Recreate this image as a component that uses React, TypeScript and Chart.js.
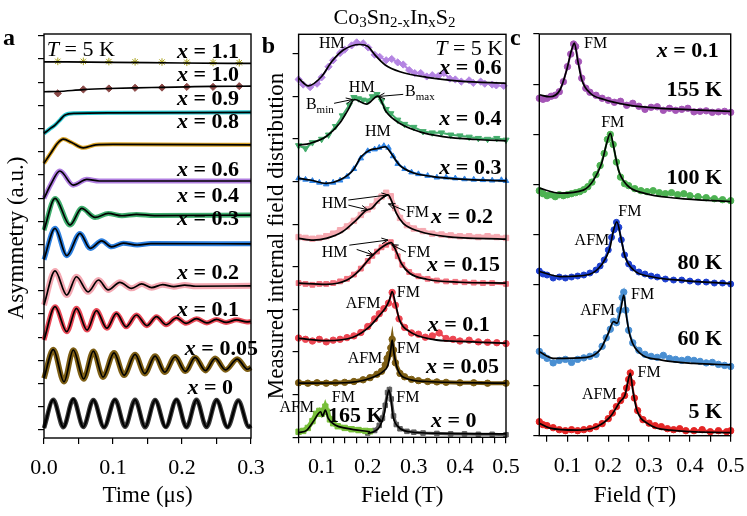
import React, { useEffect, useRef } from 'react';
import { Chart, registerables } from 'chart.js';
Chart.register(...registerables);

const SERIF = '"Liberation Serif", "Times New Roman", Times, serif';
const fnt = (size: number, style = '') => `${style} ${size}px ${SERIF}`.trim();

// ---------------- Panel a : asymmetry vs time (µs), T = 5 K ----------------
const aX11Fit = [[0, 15.88], [0.1, 15.86], [0.2, 15.83], [0.3, 15.81]];
const aX11Pts = [[0.02, 15.9], [0.057, 15.9], [0.094, 15.89], [0.132, 15.88], [0.171, 15.87], [0.207, 15.86], [0.245, 15.85], [0.283, 15.84]];
const aX10Fit = [[0, 14.59], [0.02, 14.6], [0.057, 14.68], [0.094, 14.73], [0.132, 14.76], [0.171, 14.78], [0.207, 14.8], [0.245, 14.82], [0.3, 14.83]];
const aX10Pts = [[0.02, 14.52], [0.057, 14.69], [0.094, 14.73], [0.132, 14.76], [0.171, 14.77], [0.207, 14.8], [0.245, 14.8], [0.283, 14.83]];
const aX09 = [[0, 12.79], [0.008, 12.98], [0.016, 13.15], [0.024, 13.4], [0.03, 13.58], [0.045, 13.66], [0.1, 13.68], [0.3, 13.7]];
const aX08 = [[0, 11.5], [0.01, 11.95], [0.02, 12.38], [0.028, 12.55], [0.04, 12.4], [0.057, 12.17], [0.075, 12.3], [0.1, 12.32], [0.3, 12.3]];
const aX06 = [[0, 9.99], [0.01, 10.6], [0.023, 11.17], [0.0425, 10.56], [0.062, 10.81], [0.08, 10.74], [0.3, 10.74]];
const aX04 = [[0, 8.62], [0.016, 9.99], [0.0377, 8.84], [0.0546, 9.56], [0.074, 9.17], [0.093, 9.34], [0.113, 9.24], [0.134, 9.3], [0.16, 9.25], [0.3, 9.27]];
const aX03 = [[0, 7.35], [0.016, 8.7], [0.033, 7.52], [0.052, 8.48], [0.067, 7.83], [0.0836, 8.16], [0.098, 7.9], [0.115, 8.06], [0.135, 7.98], [0.155, 8.04], [0.3, 8.03]];
const aX02 = [[0, 5.39], [0.016, 6.86], [0.033, 5.82], [0.047, 6.61], [0.064, 5.96], [0.079, 6.47], [0.093, 6.04], [0.11, 6.37], [0.127, 6.11], [0.1416, 6.3], [0.156, 6.14], [0.172, 6.27], [0.188, 6.18], [0.204, 6.25], [0.22, 6.2], [0.3, 6.22]];
const aX01 = [[0, 3.88], [0.016, 5.32], [0.033, 4.24], [0.047, 5.25], [0.0625, 4.31], [0.076, 5.15], [0.091, 4.39], [0.105, 5.03], [0.119, 4.45], [0.134, 4.96], [0.149, 4.5], [0.163, 4.89], [0.177, 4.54], [0.192, 4.84], [0.206, 4.6], [0.221, 4.8], [0.236, 4.62], [0.25, 4.77], [0.264, 4.64], [0.279, 4.75], [0.294, 4.66], [0.3, 4.68]];
const aX005 = [[0, 2.23], [0.0135, 3.47], [0.029, 2.08], [0.0425, 3.45], [0.0575, 2.2], [0.0715, 3.4], [0.0855, 2.28], [0.1015, 3.33], [0.116, 2.36], [0.132, 3.26], [0.146, 2.43], [0.161, 3.19], [0.175, 2.49], [0.19, 3.16], [0.205, 2.53], [0.219, 3.13], [0.234, 2.56], [0.248, 3.09], [0.263, 2.59], [0.28, 3.06], [0.295, 2.62], [0.3, 2.7]];
const aX0 = [[0, 0.08], [0.0135, 1.3], [0.028, 0.12], [0.0425, 1.33], [0.057, 0.13], [0.0715, 1.29], [0.087, 0.12], [0.103, 1.31], [0.1175, 0.14], [0.132, 1.3], [0.1465, 0.12], [0.161, 1.29], [0.1765, 0.13], [0.192, 1.31], [0.2065, 0.12], [0.221, 1.3], [0.2355, 0.13], [0.25, 1.29], [0.266, 0.12], [0.2816, 1.27], [0.297, 0.13], [0.3, 0.2]];

// ---------------- Panel b : field distributions, T = 5 K ----------------
const b06Fit = [[0.05, 8.43], [0.071, 8.25], [0.1, 8.47], [0.122, 8.82], [0.147, 9.09], [0.183, 9.22], [0.201, 9.17], [0.216, 8.97], [0.238, 8.74], [0.27, 8.58], [0.328, 8.45], [0.4, 8.36], [0.5, 8.31]];
const b06Dat = [[0.05, 8.4], [0.06, 8.28], [0.075, 8.22], [0.09, 8.3], [0.1, 8.45], [0.115, 8.7], [0.125, 8.85], [0.14, 9.02], [0.15, 9.1], [0.165, 9.2], [0.176, 9.27], [0.19, 9.25], [0.201, 9.15], [0.215, 8.98], [0.226, 8.93], [0.24, 8.85], [0.252, 8.88], [0.265, 8.8], [0.277, 8.75], [0.29, 8.62], [0.302, 8.55], [0.315, 8.55], [0.328, 8.47], [0.34, 8.5], [0.353, 8.48], [0.365, 8.55], [0.378, 8.42], [0.39, 8.4], [0.403, 8.35], [0.42, 8.38], [0.429, 8.32], [0.445, 8.35], [0.454, 8.3], [0.47, 8.28], [0.479, 8.26], [0.495, 8.25]];
const b04Fit = [[0.05, 6.86], [0.075, 6.9], [0.11, 7.06], [0.139, 7.37], [0.157, 7.68], [0.171, 7.93], [0.197, 7.82], [0.222, 8.01], [0.24, 7.64], [0.269, 7.37], [0.313, 7.17], [0.363, 7.06], [0.435, 6.99], [0.5, 6.96]];
const b04Dat = [[0.05, 6.85], [0.065, 6.78], [0.08, 6.92], [0.1, 7.0], [0.115, 7.1], [0.13, 7.3], [0.145, 7.55], [0.16, 7.8], [0.17, 7.98], [0.18, 7.95], [0.19, 7.92], [0.2, 7.9], [0.21, 8.0], [0.22, 8.05], [0.23, 7.9], [0.24, 7.7], [0.25, 7.6], [0.265, 7.45], [0.28, 7.35], [0.3, 7.28], [0.32, 7.18], [0.34, 7.15], [0.36, 7.15], [0.38, 7.1], [0.4, 7.08], [0.42, 7.05], [0.44, 7.02], [0.46, 7.0], [0.48, 7.02], [0.5, 6.98]];
const b03Fit = [[0.05, 6.08], [0.075, 6.04], [0.11, 5.96], [0.139, 6.04], [0.168, 6.27], [0.186, 6.59], [0.204, 6.74], [0.222, 6.78], [0.238, 6.82], [0.251, 6.66], [0.269, 6.39], [0.298, 6.21], [0.341, 6.12], [0.399, 6.06], [0.5, 6.02]];
const b03Dat = [[0.05, 6.08], [0.065, 6.05], [0.08, 6.02], [0.095, 5.98], [0.11, 5.94], [0.125, 5.98], [0.14, 6.03], [0.155, 6.12], [0.17, 6.3], [0.185, 6.55], [0.2, 6.72], [0.215, 6.76], [0.225, 6.8], [0.235, 6.84], [0.245, 6.8], [0.255, 6.6], [0.265, 6.42], [0.28, 6.3], [0.295, 6.22], [0.31, 6.18], [0.33, 6.14], [0.35, 6.1], [0.37, 6.1], [0.39, 6.08], [0.41, 6.06], [0.43, 6.05], [0.45, 6.04], [0.47, 6.03], [0.49, 6.04], [0.5, 6.02]];
const b02Fit = [[0.05, 4.67], [0.082, 4.63], [0.11, 4.67], [0.146, 4.83], [0.175, 5.1], [0.197, 5.33], [0.208, 5.37], [0.222, 5.53], [0.244, 5.69], [0.251, 5.57], [0.262, 5.26], [0.277, 5.02], [0.313, 4.83], [0.371, 4.71], [0.5, 4.65]];
const b02Dat = [[0.05, 4.7], [0.065, 4.68], [0.08, 4.66], [0.095, 4.68], [0.11, 4.72], [0.125, 4.78], [0.14, 4.86], [0.155, 4.95], [0.17, 5.08], [0.185, 5.22], [0.2, 5.35], [0.21, 5.42], [0.22, 5.55], [0.23, 5.65], [0.24, 5.74], [0.25, 5.66], [0.26, 5.38], [0.27, 5.15], [0.285, 4.98], [0.3, 4.9], [0.32, 4.84], [0.34, 4.78], [0.36, 4.76], [0.38, 4.74], [0.4, 4.72], [0.42, 4.72], [0.44, 4.7], [0.46, 4.72], [0.48, 4.7], [0.5, 4.68]];
const b015Fit = [[0.05, 3.62], [0.11, 3.59], [0.155, 3.69], [0.183, 3.93], [0.204, 4.2], [0.219, 4.36], [0.233, 4.48], [0.251, 4.57], [0.262, 4.36], [0.273, 4.08], [0.291, 3.85], [0.328, 3.71], [0.399, 3.64], [0.5, 3.62]];
const b015Dat = [[0.05, 3.62], [0.065, 3.6], [0.08, 3.58], [0.095, 3.6], [0.11, 3.6], [0.125, 3.62], [0.14, 3.66], [0.155, 3.72], [0.17, 3.82], [0.185, 3.96], [0.2, 4.14], [0.21, 4.26], [0.22, 4.36], [0.23, 4.46], [0.24, 4.52], [0.25, 4.58], [0.258, 4.45], [0.265, 4.25], [0.275, 4.05], [0.29, 3.88], [0.31, 3.78], [0.33, 3.72], [0.35, 3.68], [0.37, 3.66], [0.39, 3.65], [0.41, 3.64], [0.43, 3.63], [0.45, 3.62], [0.47, 3.62], [0.5, 3.6]];
const b01Fit = [[0.05, 2.32], [0.11, 2.27], [0.168, 2.35], [0.204, 2.6], [0.226, 2.87], [0.238, 3.03], [0.247, 3.22], [0.253, 3.42], [0.26, 3.15], [0.269, 2.75], [0.291, 2.48], [0.341, 2.3], [0.399, 2.25], [0.5, 2.21]];
const b01Dat = [[0.05, 2.33], [0.065, 2.3], [0.08, 2.26], [0.095, 2.3], [0.11, 2.24], [0.125, 2.28], [0.14, 2.3], [0.155, 2.34], [0.17, 2.38], [0.185, 2.46], [0.2, 2.6], [0.215, 2.78], [0.225, 2.9], [0.235, 3.02], [0.245, 3.15], [0.253, 3.4], [0.26, 3.1], [0.268, 2.78], [0.28, 2.58], [0.295, 2.45], [0.31, 2.42], [0.325, 2.35], [0.34, 2.38], [0.355, 2.45], [0.37, 2.32], [0.385, 2.3], [0.4, 2.26], [0.42, 2.28], [0.44, 2.24], [0.46, 2.23], [0.48, 2.22], [0.5, 2.2]];
const b005Fit = [[0.05, 1.27], [0.15, 1.28], [0.204, 1.38], [0.233, 1.54], [0.244, 1.7], [0.25, 2.05], [0.253, 2.28], [0.257, 1.97], [0.264, 1.62], [0.284, 1.38], [0.328, 1.31], [0.5, 1.27]];
const b005Dat = [[0.05, 1.28], [0.07, 1.27], [0.09, 1.28], [0.11, 1.27], [0.13, 1.28], [0.15, 1.29], [0.17, 1.31], [0.19, 1.35], [0.205, 1.4], [0.22, 1.48], [0.23, 1.55], [0.238, 1.7], [0.242, 1.85], [0.247, 1.95], [0.25, 2.1], [0.253, 2.3], [0.256, 2.05], [0.26, 1.75], [0.27, 1.5], [0.28, 1.42], [0.295, 1.36], [0.31, 1.33], [0.33, 1.31], [0.35, 1.3], [0.37, 1.29], [0.4, 1.28], [0.43, 1.28], [0.46, 1.27], [0.5, 1.27]];
const b0Fit = [[0.2, 0.09], [0.215, 0.14], [0.226, 0.25], [0.236, 0.56], [0.242, 0.95], [0.246, 1.11], [0.25, 0.92], [0.255, 0.49], [0.266, 0.25], [0.291, 0.13], [0.363, 0.09], [0.5, 0.08]];
const b0Dat = [[0.2, 0.1], [0.215, 0.16], [0.225, 0.28], [0.232, 0.45], [0.238, 0.75], [0.243, 1.05], [0.247, 1.12], [0.251, 0.9], [0.256, 0.5], [0.262, 0.3], [0.27, 0.2], [0.285, 0.14], [0.3, 0.12], [0.32, 0.1], [0.35, 0.09], [0.38, 0.08], [0.41, 0.08], [0.44, 0.07], [0.47, 0.07], [0.5, 0.06]];
const b165Fit = [[0.05, 0.11], [0.068, 0.17], [0.082, 0.37], [0.093, 0.56], [0.098, 0.6], [0.102, 0.49], [0.108, 0.64], [0.114, 0.45], [0.129, 0.29], [0.155, 0.21], [0.205, 0.13]];
const b165Dat = [[0.05, 0.13], [0.06, 0.15], [0.07, 0.22], [0.08, 0.38], [0.088, 0.55], [0.095, 0.62], [0.1, 0.55], [0.105, 0.62], [0.108, 0.72], [0.112, 0.6], [0.118, 0.42], [0.125, 0.33], [0.135, 0.26], [0.15, 0.22], [0.165, 0.19], [0.18, 0.17], [0.195, 0.15], [0.205, 0.14]];

// ---------------- Panel c : x = 0.1 at several temperatures ----------------
const c155Fit = [[0.031, 6.79], [0.057, 6.75], [0.082, 6.89], [0.098, 7.28], [0.11, 7.68], [0.117, 7.82], [0.125, 7.48], [0.135, 7.09], [0.156, 6.82], [0.188, 6.7], [0.246, 6.59], [0.328, 6.52], [0.409, 6.49], [0.5, 6.46]];
const c155Dat = [[0.031, 6.72], [0.04, 6.7], [0.05, 6.72], [0.06, 6.76], [0.07, 6.78], [0.08, 6.85], [0.09, 7.05], [0.1, 7.35], [0.108, 7.6], [0.115, 7.8], [0.12, 7.75], [0.127, 7.45], [0.135, 7.12], [0.145, 6.92], [0.155, 6.84], [0.17, 6.78], [0.185, 6.72], [0.2, 6.68], [0.215, 6.64], [0.23, 6.66], [0.245, 6.58], [0.26, 6.62], [0.275, 6.56], [0.29, 6.5], [0.305, 6.54], [0.32, 6.55], [0.335, 6.48], [0.35, 6.52], [0.365, 6.48], [0.38, 6.5], [0.395, 6.52], [0.41, 6.45], [0.425, 6.46], [0.44, 6.47], [0.455, 6.44], [0.47, 6.45], [0.485, 6.46], [0.5, 6.44]];
const c100Fit = [[0.031, 4.93], [0.082, 4.83], [0.139, 4.89], [0.164, 5.09], [0.184, 5.43], [0.196, 5.82], [0.205, 6.02], [0.213, 5.76], [0.225, 5.29], [0.246, 4.99], [0.287, 4.83], [0.368, 4.73], [0.5, 4.66]];
const c100Dat = [[0.031, 4.88], [0.04, 4.82], [0.05, 4.78], [0.06, 4.8], [0.07, 4.76], [0.08, 4.8], [0.09, 4.78], [0.1, 4.8], [0.11, 4.82], [0.12, 4.84], [0.13, 4.86], [0.14, 4.9], [0.15, 4.96], [0.16, 5.05], [0.17, 5.2], [0.18, 5.38], [0.19, 5.62], [0.198, 5.9], [0.205, 6.0], [0.212, 5.8], [0.22, 5.45], [0.23, 5.15], [0.24, 5.02], [0.25, 4.98], [0.265, 4.92], [0.28, 4.88], [0.295, 4.86], [0.31, 4.88], [0.325, 4.84], [0.34, 4.82], [0.355, 4.84], [0.37, 4.8], [0.385, 4.82], [0.4, 4.78], [0.42, 4.76], [0.44, 4.74], [0.46, 4.72], [0.48, 4.7], [0.5, 4.68]];
const c80Fit = [[0.031, 3.27], [0.082, 3.17], [0.147, 3.2], [0.176, 3.33], [0.196, 3.57], [0.205, 3.77], [0.211, 4.03], [0.221, 4.26], [0.232, 3.9], [0.241, 3.57], [0.262, 3.3], [0.303, 3.17], [0.385, 3.09], [0.5, 3.03]];
const c80Dat = [[0.031, 3.28], [0.04, 3.22], [0.05, 3.2], [0.065, 3.14], [0.08, 3.16], [0.095, 3.14], [0.11, 3.16], [0.125, 3.18], [0.14, 3.2], [0.155, 3.24], [0.17, 3.3], [0.18, 3.38], [0.19, 3.5], [0.2, 3.7], [0.208, 3.95], [0.214, 4.1], [0.22, 4.25], [0.226, 4.15], [0.232, 3.9], [0.24, 3.6], [0.25, 3.42], [0.26, 3.34], [0.275, 3.26], [0.29, 3.22], [0.305, 3.18], [0.32, 3.16], [0.34, 3.12], [0.36, 3.1], [0.38, 3.1], [0.4, 3.08], [0.42, 3.06], [0.44, 3.06], [0.46, 3.04], [0.48, 3.04], [0.5, 3.02]];
const c60Fit = [[0.031, 1.67], [0.066, 1.54], [0.147, 1.56], [0.18, 1.71], [0.2, 2.04], [0.213, 2.27], [0.222, 2.24], [0.232, 2.57], [0.238, 2.8], [0.245, 2.35], [0.254, 1.97], [0.278, 1.64], [0.328, 1.51], [0.409, 1.44], [0.5, 1.41]];
const c60Dat = [[0.031, 1.68], [0.04, 1.6], [0.05, 1.54], [0.065, 1.45], [0.08, 1.5], [0.095, 1.52], [0.11, 1.46], [0.125, 1.52], [0.14, 1.55], [0.155, 1.58], [0.17, 1.62], [0.185, 1.78], [0.195, 1.95], [0.205, 2.12], [0.213, 2.28], [0.22, 2.25], [0.228, 2.5], [0.234, 2.75], [0.238, 2.86], [0.243, 2.5], [0.25, 2.1], [0.26, 1.85], [0.275, 1.7], [0.29, 1.62], [0.305, 1.58], [0.32, 1.56], [0.335, 1.6], [0.35, 1.54], [0.365, 1.52], [0.38, 1.5], [0.395, 1.52], [0.41, 1.5], [0.425, 1.48], [0.44, 1.45], [0.455, 1.46], [0.47, 1.42], [0.485, 1.4], [0.5, 1.38]];
const c5Fit = [[0.031, 0.25], [0.057, 0.15], [0.123, 0.11], [0.172, 0.18], [0.205, 0.38], [0.229, 0.68], [0.241, 0.81], [0.249, 1.11], [0.254, 1.24], [0.26, 0.91], [0.27, 0.51], [0.295, 0.25], [0.352, 0.11], [0.5, 0.06]];
const c5Dat = [[0.031, 0.28], [0.04, 0.22], [0.05, 0.2], [0.065, 0.16], [0.08, 0.12], [0.095, 0.1], [0.11, 0.12], [0.125, 0.1], [0.14, 0.12], [0.155, 0.14], [0.17, 0.18], [0.185, 0.24], [0.2, 0.34], [0.21, 0.45], [0.22, 0.58], [0.23, 0.7], [0.24, 0.8], [0.245, 0.95], [0.25, 1.12], [0.254, 1.25], [0.258, 1.05], [0.264, 0.75], [0.272, 0.5], [0.285, 0.32], [0.3, 0.25], [0.315, 0.2], [0.33, 0.18], [0.345, 0.14], [0.36, 0.12], [0.375, 0.14], [0.39, 0.1], [0.41, 0.1], [0.43, 0.12], [0.45, 0.08], [0.47, 0.1], [0.49, 0.08], [0.5, 0.1]];

// ---------------- helpers ----------------
const toXY = (arr: number[][]) => arr.map(([x, y]) => ({ x, y }));

const fitDs = (arr: number[][], w = 1.7) => ({
  data: toXY(arr), showLine: true, borderColor: '#000', borderWidth: w,
  pointRadius: 0, cubicInterpolationMode: 'monotone', order: 0, clip: 2,
});
const bandDs = (arr: number[][], color: string, width = 5) => ({
  data: toXY(arr), showLine: true, borderColor: color, borderWidth: width,
  pointRadius: 0, cubicInterpolationMode: 'monotone', order: 2, clip: 4,
});
const ptsDs = (arr: number[][], color: string, style: string, r = 3, rot = 0, line = 0) => ({
  data: toXY(arr), showLine: line > 0, borderColor: color, borderWidth: line || 1,
  pointRadius: r, pointStyle: style, pointRotation: rot,
  pointBackgroundColor: color, pointBorderColor: color, pointBorderWidth: 1,
  order: 1, clip: 4,
});

type Seg = { t: string; f: string; dy?: number };
type Lab = { x: number; y: number; segs: Seg[]; align: 'left' | 'right' | 'center' };

const B22 = fnt(22, 'bold');
const BI22 = fnt(22, 'italic bold');
const R16 = fnt(16);
const xLab = (v: string, x: number, y: number): Lab => ({ x, y, align: 'right', segs: [{ t: 'x', f: BI22 }, { t: ' = ' + v, f: B22 }] });
const tLab = (x: number, y: number, align: any): Lab => ({ x, y, align, segs: [{ t: 'T', f: fnt(22, 'italic') }, { t: ' = 5 K', f: fnt(22) }] });
const note = (t: string, x: number, y: number): Lab => ({ x, y, align: 'center', segs: [{ t, f: R16 }] });
const boldLab = (t: string, x: number, y: number, align: any = 'right'): Lab => ({ x, y, align, segs: [{ t, f: B22 }] });

function drawSegs(ctx: CanvasRenderingContext2D, segs: Seg[], x: number, y: number, align: string) {
  let w = 0;
  for (const s of segs) { ctx.font = s.f; w += ctx.measureText(s.t).width; }
  let cx = align === 'right' ? x - w : align === 'center' ? x - w / 2 : x;
  for (const s of segs) {
    ctx.font = s.f;
    ctx.fillText(s.t, cx, y + (s.dy || 0));
    cx += ctx.measureText(s.t).width;
  }
}

function drawArrow(ctx: CanvasRenderingContext2D, x1: number, y1: number, x2: number, y2: number) {
  const a = Math.atan2(y2 - y1, x2 - x1), L = 7, s = 0.42;
  ctx.beginPath();
  ctx.moveTo(x1, y1); ctx.lineTo(x2, y2);
  ctx.moveTo(x2 - L * Math.cos(a - s), y2 - L * Math.sin(a - s));
  ctx.lineTo(x2, y2);
  ctx.lineTo(x2 - L * Math.cos(a + s), y2 - L * Math.sin(a + s));
  ctx.stroke();
}

// ---------------- panel specs ----------------
const panelA = {
  left: 0, w: 270, top: 34, padR: 19, yw: 44, xh: 78,
  xmin: 0, xmax: 0.3, xstep: 0.05, ymin: -0.345, ymax: 17.08,
  datasets: [
    fitDs(aX11Fit), ptsDs(aX11Pts, '#aaa21c', 'star', 3.8),
    fitDs(aX10Fit), ptsDs(aX10Pts, '#8c4a48', 'rectRot', 3.6),
    fitDs(aX09), bandDs(aX09, '#26c6cf', 4),
    fitDs(aX08), bandDs(aX08, '#dba426', 4),
    fitDs(aX06), bandDs(aX06, '#b07ee0', 5),
    fitDs(aX04), bandDs(aX04, '#3fae6e', 5),
    fitDs(aX03), bandDs(aX03, '#2d80e0', 5),
    fitDs(aX02), bandDs(aX02, '#f4a8b2', 6),
    fitDs(aX01), bandDs(aX01, '#ea4a58', 5),
    fitDs(aX005), bandDs(aX005, '#7d5e14', 5.5),
    fitDs(aX0, 2.2), bandDs(aX0, '#3a3a3a', 4.5),
  ],
  labels: [
    tLab(0.004, 16.39, 'left'),
    xLab('1.1', 0.2826, 16.28), xLab('1.0', 0.2826, 15.31), xLab('0.9', 0.2826, 14.27),
    xLab('0.8', 0.2826, 13.26), xLab('0.6', 0.2826, 11.21), xLab('0.4', 0.2826, 10.09),
    xLab('0.3', 0.2826, 9.1), xLab('0.2', 0.2826, 6.77), xLab('0.1', 0.2826, 5.17),
    xLab('0.05', 0.31, 3.49), xLab('0', 0.274, 1.81),
  ] as Lab[],
  arrows: [] as number[][],
  texts: [
    { t: 'Asymmetry (a.u.)', x: 17, y: 238, rot: true, f: fnt(23) },
    { t: 'Time (\u03bcs)', x: 147.5, y: 496, f: fnt(23) },
    { t: 'a', x: 3, y: 45, f: fnt(24, 'bold'), align: 'left', base: 'alphabetic' },
  ],
  compound: null as any,
};

const panelB = {
  left: 250, w: 270, top: 34.3, padR: 14, yw: 48.6, xh: 78.7,
  xmin: 0.05, xmax: 0.5, xstep: 0.025, ymin: 0, ymax: 9.46,
  datasets: [
    fitDs(b06Fit), ptsDs(b06Dat, '#b484e2', 'rectRot', 3.6, 0, 2),
    fitDs(b04Fit), ptsDs(b04Dat, '#44ad6c', 'triangle', 3.6, 180, 2),
    fitDs(b03Fit), ptsDs(b03Dat, '#2f84e6', 'triangle', 3.2, 0, 2),
    fitDs(b02Fit), ptsDs(b02Dat, '#f6aab2', 'rect', 3.8, 0, 4),
    fitDs(b015Fit), ptsDs(b015Dat, '#f2727f', 'rect', 3.4, 0, 3),
    fitDs(b01Fit), ptsDs(b01Dat, '#ec4652', 'circle', 3.2, 0, 2),
    fitDs(b005Fit), ptsDs(b005Dat, '#7d5e14', 'circle', 3.2, 0, 4),
    fitDs(b165Fit), ptsDs(b165Dat, '#78bf3a', 'rect', 3.8, 0, 5),
    fitDs(b0Fit), ptsDs(b0Dat, '#5e5e5e', 'rect', 3.2, 0, 3),
  ],
  labels: [
    tLab(0.494, 9.11, 'right'),
    xLab('0.6', 0.49, 8.67), xLab('0.4', 0.49, 7.47), xLab('0.3', 0.49, 6.31),
    xLab('0.2', 0.472, 5.16), xLab('0.15', 0.487, 4.03), xLab('0.1', 0.465, 2.62),
    xLab('0.05', 0.485, 1.64), xLab('0', 0.436, 0.37),
    boldLab('165 K', 0.174, 0.5, 'center'),
    note('HM', 0.122, 9.23), note('HM', 0.187, 8.21), note('HM', 0.222, 7.16),
    { x: 0.096, y: 7.8, align: 'center', segs: [{ t: 'B', f: R16 }, { t: 'min', f: fnt(11), dy: 5 }] },
    { x: 0.281, y: 8.1, align: 'left', segs: [{ t: 'B', f: R16 }, { t: 'max', f: fnt(11), dy: 5 }] },
    note('HM', 0.128, 5.48), note('FM', 0.308, 5.28),
    note('HM', 0.128, 4.34), note('FM', 0.311, 4.34),
    note('AFM', 0.19, 3.13), note('FM', 0.288, 3.4),
    note('AFM', 0.194, 1.84), note('FM', 0.288, 2.07),
    note('FM', 0.287, 0.93), note('AFM', 0.046, 0.7), note('FM', 0.147, 0.93),
  ] as Lab[],
  arrows: [
    [0.127, 7.84, 0.167, 7.93], [0.277, 8.05, 0.223, 8.0],
    [0.158, 5.57, 0.244, 5.69], [0.158, 5.45, 0.2, 5.34], [0.281, 5.32, 0.245, 5.48],
    [0.16, 4.51, 0.244, 4.63], [0.176, 4.41, 0.212, 4.28], [0.283, 4.35, 0.252, 4.52],
  ],
  texts: [
    { t: 'Measured internal field distribution', x: 27, y: 236, rot: true, f: fnt(23) },
    { t: 'Field (T)', x: 152.3, y: 496, f: fnt(23) },
    { t: 'b', x: 11.7, y: 53, f: fnt(24, 'bold'), align: 'left', base: 'alphabetic' },
  ],
  compound: {
    x: 144.5, y: 18, segs: [
      { t: 'Co', f: fnt(22) }, { t: '3', f: fnt(15), dy: 5 }, { t: 'Sn', f: fnt(22) },
      { t: '2-x', f: fnt(15), dy: 5 }, { t: 'In', f: fnt(22) }, { t: 'x', f: fnt(15), dy: 5 },
      { t: 'S', f: fnt(22) }, { t: '2', f: fnt(15), dy: 5 },
    ],
  },
};

const panelC = {
  left: 500, w: 247, top: 34, padR: 16.3, yw: 39.3, xh: 80.3,
  xmin: 0.031, xmax: 0.5, xstep: 0.05, ymin: 0, ymax: 8,
  datasets: [
    fitDs(c155Fit), ptsDs(c155Dat, '#a455b6', 'circle', 3.2, 0, 2),
    fitDs(c100Fit), ptsDs(c100Dat, '#4db252', 'circle', 3.2, 0, 2),
    fitDs(c80Fit), ptsDs(c80Dat, '#1e40cf', 'circle', 3, 0, 2),
    fitDs(c60Fit), ptsDs(c60Dat, '#4a8fd2', 'circle', 3.2, 0, 2),
    fitDs(c5Fit), ptsDs(c5Dat, '#e42626', 'circle', 3.2, 0, 2),
  ],
  labels: [
    xLab('0.1', 0.471, 7.65),
    boldLab('155 K', 0.479, 6.88), boldLab('100 K', 0.479, 5.13), boldLab('80 K', 0.479, 3.43),
    boldLab('60 K', 0.479, 1.91), boldLab('5 K', 0.479, 0.46),
    note('FM', 0.169, 7.81), note('FM', 0.211, 6.24), note('FM', 0.253, 4.46), note('AFM', 0.16, 3.88),
    note('FM', 0.284, 2.8), note('AFM', 0.174, 2.49), note('FM', 0.3, 1.26), note('AFM', 0.178, 0.81),
  ] as Lab[],
  arrows: [] as number[][],
  texts: [
    { t: 'Field (T)', x: 135, y: 496, f: fnt(23) },
    { t: 'c', x: 10, y: 45, f: fnt(24, 'bold'), align: 'left', base: 'alphabetic' },
  ],
  compound: null as any,
};

function overlay(spec: any) {
  return {
    id: 'overlay',
    afterDraw(chart: any) {
      const ctx: CanvasRenderingContext2D = chart.ctx;
      const { left, top, right, bottom } = chart.chartArea;
      const xs = chart.scales.x, ys = chart.scales.y;
      ctx.save();
      ctx.strokeStyle = '#000';
      ctx.lineWidth = 1.4;
      ctx.strokeRect(left, top, right - left, bottom - top);
      ctx.fillStyle = '#000';
      ctx.textBaseline = 'middle';
      for (const l of spec.labels as Lab[]) {
        drawSegs(ctx, l.segs, xs.getPixelForValue(l.x), ys.getPixelForValue(l.y), l.align);
      }
      ctx.lineWidth = 1;
      for (const a of spec.arrows as number[][]) {
        drawArrow(ctx, xs.getPixelForValue(a[0]), ys.getPixelForValue(a[1]), xs.getPixelForValue(a[2]), ys.getPixelForValue(a[3]));
      }
      for (const t of spec.texts) {
        ctx.font = t.f;
        ctx.textAlign = t.align || 'center';
        ctx.textBaseline = t.base || 'middle';
        if (t.rot) {
          ctx.save(); ctx.translate(t.x, t.y); ctx.rotate(-Math.PI / 2);
          ctx.fillText(t.t, 0, 0); ctx.restore();
        } else ctx.fillText(t.t, t.x, t.y);
      }
      ctx.textAlign = 'left';
      ctx.textBaseline = 'middle';
      if (spec.compound) drawSegs(ctx, spec.compound.segs, spec.compound.x, spec.compound.y, 'center');
      ctx.restore();
    },
  };
}

function Panel({ spec }: { spec: any }) {
  const ref = useRef<HTMLCanvasElement>(null);
  useEffect(() => {
    const chart = new Chart(ref.current as HTMLCanvasElement, {
      type: 'scatter',
      data: { datasets: spec.datasets },
      options: {
        responsive: false,
        animation: false,
        devicePixelRatio: 1,
        layout: { padding: { left: 0, top: spec.top, right: spec.padR, bottom: 0 } },
        plugins: { legend: { display: false }, tooltip: { enabled: false } },
        scales: {
          x: {
            type: 'linear', min: spec.xmin, max: spec.xmax,
            ticks: {
              stepSize: spec.xstep, includeBounds: false, autoSkip: false, maxRotation: 0,
              color: '#000', font: { family: SERIF, size: 22 }, padding: 11,
              callback: (v: any) => {
                const n = Number(v);
                return Math.abs(n * 10 - Math.round(n * 10)) < 1e-6 ? n.toFixed(1) : '';
              },
            },
            grid: { drawOnChartArea: false, drawTicks: true, tickLength: 6, color: '#000', lineWidth: 1.2 },
            border: { display: false },
            afterFit: (s: any) => { s.height = spec.xh; s.paddingLeft = 0; s.paddingRight = 0; },
          },
          y: {
            type: 'linear', min: spec.ymin, max: spec.ymax,
            ticks: { stepSize: 1, includeBounds: false, display: false },
            grid: { drawOnChartArea: false, drawTicks: true, tickLength: 6, color: '#000', lineWidth: 1.2 },
            border: { display: false },
            afterFit: (s: any) => { s.width = spec.yw; s.paddingTop = 0; s.paddingBottom = 0; },
          },
        },
      } as any,
      plugins: [overlay(spec)],
    } as any);
    return () => chart.destroy();
  }, []);
  return (
    <canvas ref={ref} width={spec.w} height={516}
      style={{ position: 'absolute', left: spec.left, top: 0, width: spec.w, height: 516 }} />
  );
}

export default function App() {
  return (
    <div style={{ position: 'fixed', left: 0, top: 0, width: 747, height: 516, background: '#fff', overflow: 'hidden' }}>
      <Panel spec={panelA} />
      <Panel spec={panelB} />
      <Panel spec={panelC} />
    </div>
  );
}
